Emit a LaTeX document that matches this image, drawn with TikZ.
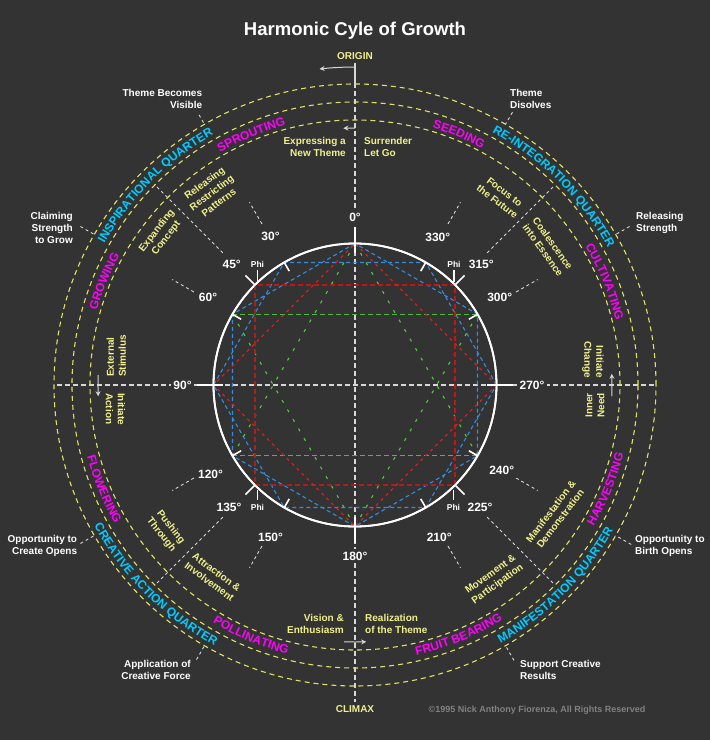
\documentclass[tikz,border=0pt]{standalone}
\usepackage{fontspec}
\setmainfont{Liberation Sans}
\usepackage{xcolor}
\usetikzlibrary{arrows.meta, decorations.text}
\definecolor{bgdark}{RGB}{51,51,51}
\definecolor{paleyellow}{RGB}{240,240,140}
\definecolor{ringyellow}{RGB}{225,225,105}
\definecolor{phasemag}{RGB}{255,0,255}
\definecolor{quartcyan}{RGB}{0,204,255}
\definecolor{axisgray}{RGB}{215,215,215}
\definecolor{starblue}{RGB}{51,140,220}
\definecolor{starred}{RGB}{220,30,30}
\definecolor{stargreen}{RGB}{80,205,60}
\definecolor{edgegreen}{RGB}{75,185,60}
\definecolor{copygray}{RGB}{130,130,130}
\newcommand{\titlefont}{\fontsize{18.5}{22}\selectfont\bfseries}
\newcommand{\notefont}{\fontsize{10}{12}\selectfont\bfseries}
\newcommand{\degfont}{\fontsize{12}{14}\selectfont\bfseries}
\newcommand{\ringfont}{\fontsize{12}{14}\selectfont\bfseries}
\newcommand{\phifont}{\fontsize{8.5}{10}\selectfont\bfseries}
\newcommand{\copyfont}{\fontsize{9}{11}\selectfont\bfseries}
\tikzset{
  ringcircle/.style={draw=ringyellow, line width=1.1pt, dash pattern=on 5pt off 4pt},
  axisline/.style={draw=axisgray, line width=1.3pt, dash pattern=on 5pt off 3pt},
  axissolid/.style={draw=axisgray, line width=1.3pt},
  leaderline/.style={draw=axisgray, line width=0.9pt, dash pattern=on 3pt off 3pt},
  tickline/.style={draw=white, line width=1.6pt},
  flowarrow/.style={draw=axisgray, line width=1pt, -{Stealth[length=5pt, width=5pt]}},
  bluestar/.style={draw=starblue, line width=1.1pt, dash pattern=on 4pt off 3pt},
  redsquare/.style={draw=starred!85!black, line width=1.4pt, dash pattern=on 5pt off 3pt},
  reddiamond/.style={draw=starred, line width=1.1pt, dash pattern=on 3pt off 4pt},
  greenedge/.style={draw=edgegreen, line width=1.3pt, dash pattern=on 5pt off 3pt},
  greenstar/.style={draw=stargreen, line width=1.1pt, dash pattern=on 3pt off 8pt},
  wheel/.style={draw=white, line width=1.8pt, circle, minimum size=283pt, inner sep=0pt, outer sep=0pt},
  deglabel/.style={text=white, font=\degfont, fill=bgdark, inner sep=2.5pt},
  notelabel/.style={text=white, font=\notefont, inner sep=0pt},
  phaselabel/.style={text=paleyellow, font=\notefont, align=center, inner sep=0pt},
  philabel/.style={text=white, font=\phifont, inner sep=0pt, anchor=base},
  titlelabel/.style={text=white, font=\titlefont, anchor=base, inner sep=0pt},
  markerlabel/.style={text=paleyellow, font=\notefont, anchor=base, inner sep=0pt},
  ringtext/.style 2 args={decorate, decoration={text along path, text align=center,
    text color=#1, text={|\ringfont|#2}}}
}
\begin{document}
\begin{tikzpicture}[x=1pt, y=1pt]
  \fill[bgdark] (-355,-355) rectangle (355,385);
  \useasboundingbox (-355,-355) rectangle (355,385);

  % axes
  \coordinate (axisEnd) at (0,322);
  \coordinate (axisTop) at (0,302);
  \coordinate (axisBot) at (0,-317);
  \coordinate (axisL) at (-298,0);
  \coordinate (axisR) at (300,0);
  \draw[axisline] (axisTop) -- (axisBot);
  \draw[axisline] (axisL) -- (axisR);

  % outer rings
  \draw[ringcircle] (0,0) circle[radius=265];
  \draw[ringcircle] (0,0) circle[radius=283];
  \draw[ringcircle] (0,0) circle[radius=301];

  % inner wheel and its star figures
  \node[wheel] (wheel) at (0,0) {};
  \foreach \a in {0,30,...,330} \coordinate (v\a) at (wheel.\a);
  \foreach \a in {45,135,225,315} \coordinate (v\a) at (wheel.\a);
  \draw[bluestar] (v90)--(v150)--(v210)--(v270)--(v330)--(v30)--cycle;
  \draw[bluestar] (v0)--(v60)--(v120)--(v180)--(v240)--(v300)--cycle;
  \draw[greenedge] (v150)--(v30);
  \draw[greenedge] (v210)--(v330);
  \draw[greenstar] (v90)--(v210); \draw[greenstar] (v90)--(v330);
  \draw[greenstar] (v270)--(v150); \draw[greenstar] (v270)--(v30);
  \draw[redsquare] (v45)--(v135)--(v225)--(v315)--cycle;
  \draw[reddiamond] (v0)--(v90)--(v180)--(v270)--cycle;
  \node[wheel] at (0,0) {};

  % ticks on the wheel
  \foreach \a in {0,90,180,270}
    \draw[tickline] (\a:132) -- (\a:158);
  \foreach \a in {30,60,120,150,210,240,300,330}
    \draw[tickline] (v\a) -- (\a:131.5);
  \foreach \a in {45,135,225,315}
    \draw[tickline] (v\a) -- (\a:155);

  % degree dashes
  \foreach \a in {30,60,120,150,210,240,300,330}
    \draw[leaderline] (\a:186) -- (\a:211);
  \foreach \a in {45,135,225,315}
    \draw[leaderline] (\a:187) -- (\a:283);

  % degree labels
  \foreach \d/\px/\py in {0/0/167.5, 30/-84.5/148.8, 45/-123.3/120.8, 60/-147/87.5,
      90/-172.5/0, 120/-144.5/-89.2, 135/-126/-122.5, 150/-84.5/-152.5,
      180/0/-171, 210/84.2/-152.5, 225/125/-122.5, 240/146.7/-85.8,
      270/177/0, 300/144.7/87.5, 315/126.3/120.8, 330/82.8/147.5}
    \node[deglabel] (deg\d) at (\px,\py) {\d°};

  % Phi marks
  \node[philabel] (phiNW) at (-97.5,117.3) {Phi};
  \node[philabel] (phiNE) at (99,117.3) {Phi};
  \node[philabel] (phiSW) at (-97.5,-125) {Phi};
  \node[philabel] (phiSE) at (98.5,-125) {Phi};
  \draw[tickline] ([yshift=-2pt]phiNW.south) -- ++(0,-12);
  \draw[tickline] ([yshift=-2pt]phiNE.south) -- ++(0,-12);
  \draw[tickline] ([yshift=3.5pt]phiSW.north) -- ++(0,10);
  \draw[tickline] ([yshift=3.5pt]phiSE.north) -- ++(0,10);

  % flow arrows
  \coordinate (flowO) at (90:318);
  \draw[flowarrow] (flowO) arc[start angle=90, end angle=96.4, radius=318];
  \draw[axissolid] (axisEnd) -- (axisTop);
  \draw[flowarrow] (90:257) arc[start angle=90, end angle=92.6, radius=257];
  \draw[flowarrow] (177.8:257) arc[start angle=177.8, end angle=182.5, radius=257];
  \draw[flowarrow] (267.6:257) arc[start angle=267.6, end angle=272.5, radius=257];
  \draw[flowarrow] (357.5:257) arc[start angle=357.5, end angle=362.5, radius=257];

  % ring texts
  \path[ringtext={phasemag}{SPROUTING}] (142.5:268.7) arc[start angle=142.5, end angle=82.5, radius=268.7];
  \path[ringtext={phasemag}{GROWING}] (187.5:268.7) arc[start angle=187.5, end angle=127.5, radius=268.7];
  \path[ringtext={phasemag}{SEEDING}] (97.5:268.7) arc[start angle=97.5, end angle=37.5, radius=268.7];
  \path[ringtext={phasemag}{CULTIVATING}] (52.5:268.7) arc[start angle=52.5, end angle=-7.5, radius=268.7];
  \path[ringtext={phasemag}{FLOWERING}] (172.5:277.3) arc[start angle=172.5, end angle=232.5, radius=277.3];
  \path[ringtext={phasemag}{POLLINATING}] (217.5:277.3) arc[start angle=217.5, end angle=277.5, radius=277.3];
  \path[ringtext={phasemag}{FRUIT BEARING}] (262.5:277.3) arc[start angle=262.5, end angle=322.5, radius=277.3];
  \path[ringtext={phasemag}{HARVESTING}] (307.5:277.3) arc[start angle=307.5, end angle=367.5, radius=277.3];
  \path[ringtext={quartcyan}{INSPIRATIONAL QUARTER}] (175:287.7) arc[start angle=175, end angle=95, radius=287.7];
  \path[ringtext={quartcyan}{RE-INTEGRATION QUARTER}] (85:287.7) arc[start angle=85, end angle=5, radius=287.7];
  \path[ringtext={quartcyan}{CREATIVE ACTION QUARTER}] (185:296.3) arc[start angle=185, end angle=265, radius=296.3];
  \path[ringtext={quartcyan}{MANIFESTATION QUARTER}] (275:296.3) arc[start angle=275, end angle=355, radius=296.3];

  % phase texts inside
  \node[phaselabel, align=right, anchor=base east] (pExpress) at (-9,229) {Expressing a\\New Theme};
  \node[phaselabel, align=left, anchor=base west] (pSurrender) at (9,229) {Surrender\\Let Go};
  \node[phaselabel, align=right, anchor=base east] (pVision) at (-11,-248) {Vision \&\\Enthusiasm};
  \node[phaselabel, align=left, anchor=base west] (pRealize) at (10,-248) {Realization\\of the Theme};
  \node[phaselabel, align=left, rotate=90, anchor=base west] (pExternal) at (-229,8) {External\\Stimulus};
  \node[phaselabel, align=left, rotate=-90, anchor=base west] (pInitAction) at (-249,-8) {Initiate\\Action};
  \node[phaselabel, align=right, rotate=-90, anchor=base east] (pInitChange) at (229.3,7) {Initiate\\Change};
  \node[phaselabel, align=right, rotate=90, anchor=base east] (pInner) at (249.3,-8) {Inner\\Need};
  \node[phaselabel, rotate=36.7] (pRelease) at (126.7:240) {Releasing\\Restricting\\Patterns};
  \node[phaselabel, rotate=52.1] (pExpand) at (142.1:245) {Expanding\\Concept};
  \node[phaselabel, rotate=-52.3] (pPush) at (217.7:239) {Pushing\\Through};
  \node[phaselabel, rotate=-36.5] (pAttract) at (233.5:238.6) {Attraction \&\\Involvement};
  \node[phaselabel, rotate=35.6] (pMove) at (305.6:239.3) {Movement \&\\Participation};
  \node[phaselabel, rotate=52.5] (pManifest) at (327:239) {Manifestation \&\\Demonstration};
  \node[phaselabel, rotate=-54.4] (pCoalesce) at (35.6:237.3) {Coalescence\\into Essence};
  \node[phaselabel, rotate=-37.8] (pFocus) at (52.2:238.1) {Focus to\\the Future};

  % outer notes with leaders
  \node[notelabel, align=right, anchor=base east] (nVisible) at (-152.7,277) {Theme Becomes\\Visible};
  \node[notelabel, align=left, anchor=base west] (nDisolves) at (155,277) {Theme\\Disolves};
  \node[notelabel, align=right, anchor=base east] (nClaiming) at (-282,141.7) {Claiming\\Strength\\to Grow};
  \node[notelabel, align=left, anchor=base west] (nStrength) at (281,153.7) {Releasing\\Strength};
  \node[notelabel, align=right, anchor=base east] (nCreate) at (-277.7,-169) {Opportunity to\\Create Opens};
  \node[notelabel, align=left, anchor=base west] (nBirth) at (280,-169) {Opportunity to\\Birth Opens};
  \node[notelabel, align=right, anchor=base east] (nForce) at (-164,-294) {Application of\\Creative Force};
  \node[notelabel, align=left, anchor=base west] (nResults) at (165,-294) {Support Creative\\Results};
  \foreach \a/\r in {30/317, 60/315, 120/312, 150/317, 210/317, 240/317, 300/318, 330/319} {
    \coordinate (lead\a) at (\a:\r);
    \coordinate (ring\a) at (\a:301);
    \draw[leaderline] (lead\a) -- (ring\a);
  }

  % title, markers, credit
  \node[titlelabel] (title) at (0,350) {Harmonic Cyle of Growth};
  \node[markerlabel] (origin) at (0,325.5) {ORIGIN};
  \node[markerlabel] (climax) at (0,-327.7) {CLIMAX};
  \node[text=copygray, font=\copyfont, anchor=base, inner sep=0pt] (credit) at (182,-327.5)
    {©1995 Nick Anthony Fiorenza, All Rights Reserved};
\end{tikzpicture}
\end{document}
